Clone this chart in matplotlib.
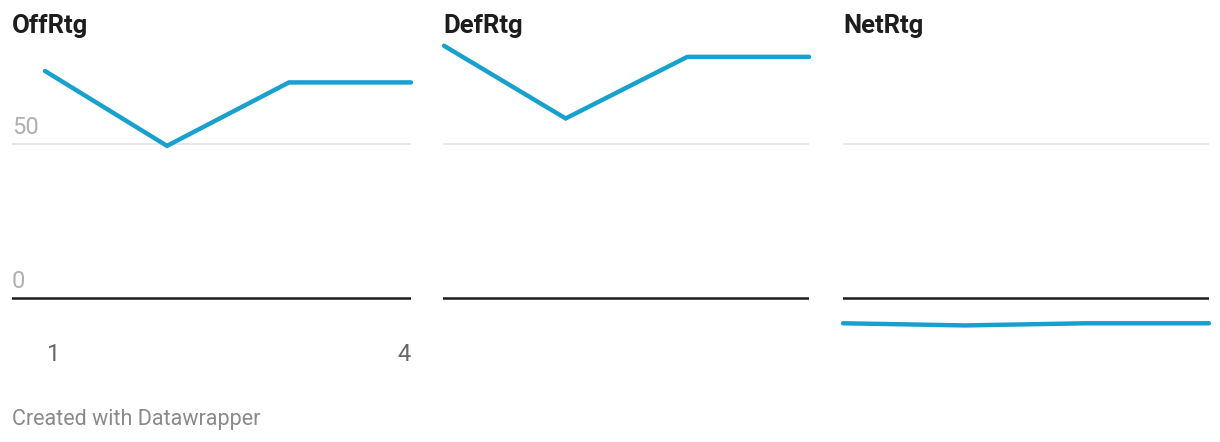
import matplotlib
matplotlib.use("Agg")
import matplotlib.pyplot as plt
import matplotlib.transforms as mtransforms

plt.rcParams["font.family"] = ["Roboto", "DejaVu Sans"]

games   = [1, 2, 3, 4]
off_rtg = [73.6, 49.3, 69.9, 69.9]
def_rtg = [81.8, 58.2, 78.2, 78.2]
net_rtg = [-8.3, -9.0, -8.3, -8.3]
panels  = [("OffRtg", off_rtg), ("DefRtg", def_rtg), ("NetRtg", net_rtg)]
y_ticks = [0, 50]
x_tick_labels = ["1", "4"]

W, H = 1220, 442
LINE = "#18a1cd"
YMIN, YMAX = -15, 85

fig = plt.figure(figsize=(W / 100, H / 100), dpi=100)

# pixel layout of each panel's plot area (left, right)
spans = [(12, 411), (443, 809), (843, 1209)]
data_left = [45, 444, 843]
y_bottom_px, y_top_px = 343.9, 35.9

for i, ((title, vals), (l, r)) in enumerate(zip(panels, spans)):
    ax = fig.add_axes([l / W, (H - y_bottom_px) / H, (r - l) / W,
                       (y_bottom_px - y_top_px) / H])
    per_unit = (r - data_left[i]) / (games[-1] - games[0])
    ax.set_xlim(games[0] - (data_left[i] - l) / per_unit, games[-1])
    ax.set_ylim(YMIN, YMAX)
    for s in ax.spines.values():
        s.set_visible(False)
    ax.set_xticks([])
    ax.set_yticks([])

    ax.axhline(50, color="#e3e3e3", linewidth=1.2, zorder=1)
    ax.axhline(0, color="#1d1d1d", linewidth=1.8, zorder=2)
    ax.plot(games, vals, color=LINE, linewidth=3.2, solid_capstyle="round",
            solid_joinstyle="miter", clip_on=False, zorder=3)

    fig.text(l / W, 1 - 33.5 / H, title, fontsize=18.5, fontweight="bold",
             color="#1d1d1d", va="baseline", ha="left")

    if i == 0:
        trans = mtransforms.blended_transform_factory(ax.transAxes, ax.transData)
        for t in y_ticks:
            ax.text(0, t + 3.3, str(t), transform=trans, fontsize=17,
                    color="#b0b0b0", ha="left", va="baseline")
        ax.text(games[0] + 0.01, -20.5, x_tick_labels[0], fontsize=17,
                color="#666666", ha="left", va="baseline", clip_on=False)
        ax.text(games[-1], -20.5, x_tick_labels[1], fontsize=17,
                color="#666666", ha="right", va="baseline", clip_on=False)

fig.text(12 / W, 1 - 425 / H, "Created with Datawrapper", fontsize=15.5,
         color="#8a8a8a", ha="left", va="baseline")

fig.savefig("out.png", dpi=100)
